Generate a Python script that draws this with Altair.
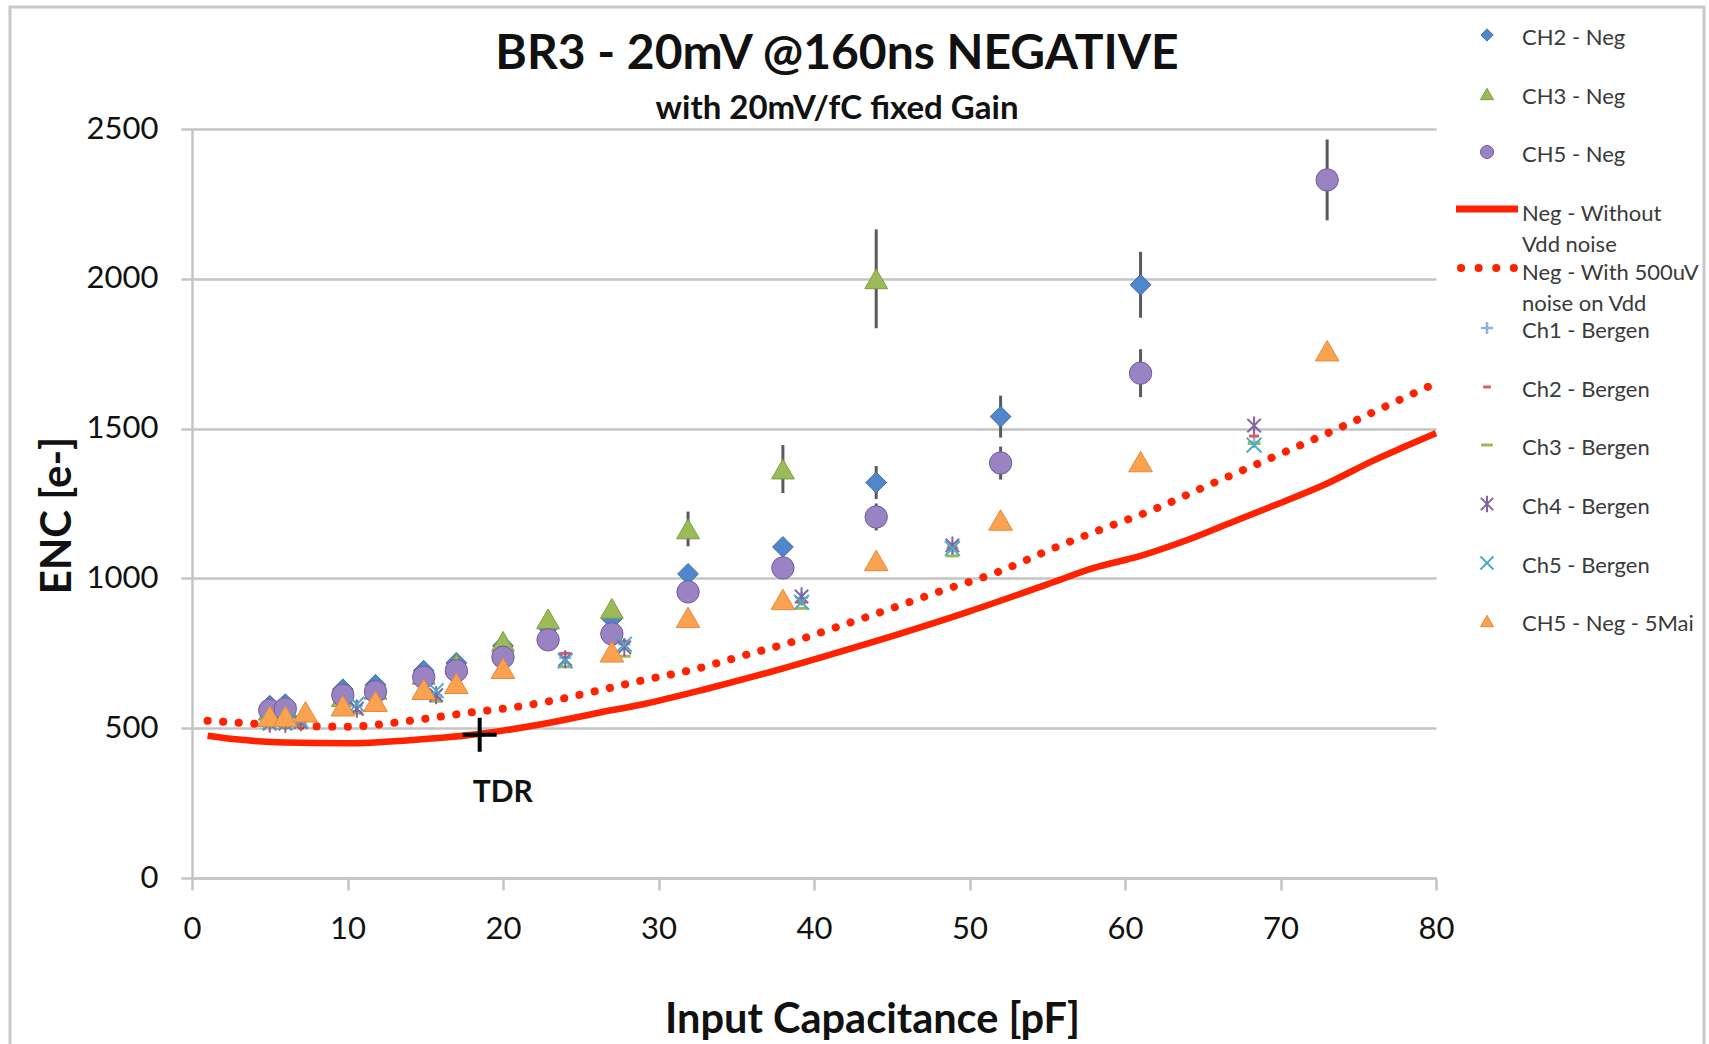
import altair as alt
import pandas as pd

FONT = "Lato"

# ---------------- data ----------------
title_text = ["BR3 - 20mV @160ns NEGATIVE"]
subtitle_text = ["with 20mV/fC fixed Gain"]
x_title = "Input Capacitance [pF]"
y_title = "ENC [e-]"
x_ticks = [0, 10, 20, 30, 40, 50, 60, 70, 80]
y_ticks = [0, 500, 1000, 1500, 2000, 2500]

ch2_x = [5, 6, 9.7, 11.8, 14.9, 17, 20, 22.9, 27, 31.9, 38, 44, 52, 61]
ch2_y = [575, 580, 630, 645, 692, 718, 775, 835, 865, 1015, 1105, 1320, 1540, 1980]
ch2_err = [10, 10, 10, 10, 10, 10, 15, 15, 15, 20, 25, 55, 70, 110]

ch3_x = [5, 6, 9.7, 11.8, 14.9, 17, 20, 22.9, 27, 31.9, 38, 44]
ch3_y = [560, 565, 605, 630, 680, 715, 790, 865, 900, 1165, 1365, 2000]
ch3_err = [10, 10, 10, 10, 10, 10, 15, 15, 20, 58, 80, 165]

ch5_x = [5, 6, 9.7, 11.8, 14.9, 17, 20, 22.9, 27, 31.9, 38, 44, 52, 61, 73]
ch5_y = [560, 565, 610, 622, 670, 692, 737, 795, 815, 955, 1035, 1205, 1385, 1685, 2330]
ch5_err = [10, 10, 10, 10, 10, 10, 15, 15, 15, 20, 25, 45, 55, 80, 135]

mai_x = [5, 6, 7.3, 9.7, 11.8, 14.9, 17, 20, 27, 31.9, 38, 44, 52, 61, 73]
mai_y = [540, 540, 555, 575, 590, 630, 650, 700, 755, 870, 930, 1060, 1195, 1390, 1760]

bergen_x = [5, 6, 7, 10.6, 15.7, 24, 27.8, 39.2, 48.9, 68.3]
b_ch1_y = [520, 515, 520, 575, 610, 735, 780, 935, 1100, 1455]
b_ch2_y = [510, 510, 515, 555, 600, 750, 790, 920, 1105, 1475]
b_ch3_y = [505, 505, 510, 550, 590, 705, 740, 900, 1075, 1450]
b_ch4_y = [515, 515, 520, 565, 610, 730, 770, 940, 1110, 1510]
b_ch5_y = [520, 520, 525, 580, 625, 725, 780, 920, 1100, 1445]

solid_x = [1, 3, 6, 10, 14, 18, 20, 23, 26, 29, 33, 37, 41, 45.5, 50, 55, 58, 61, 64, 67, 70, 73, 76, 78, 80]
solid_y = [475, 462, 452, 450, 460, 478, 492, 518, 550, 580, 630, 685, 745, 815, 890, 980, 1035, 1075, 1128, 1190, 1252, 1317, 1394, 1440, 1485]

dot_x = [1, 5, 10, 14, 18, 20, 23, 26, 29, 32.5, 35.5, 38.6, 41.6, 44.6, 48, 51.8, 55.6, 58.7, 61.8, 64.8, 67.8, 70.9, 73.9, 77, 80]
dot_y = [525, 512, 505, 525, 553, 565, 590, 624, 660, 699, 743, 788, 840, 893, 955, 1021, 1105, 1168, 1229, 1298, 1366, 1436, 1505, 1580, 1652]

tdr_x = [18.5]
tdr_y = [478]
tdr_label = ["TDR"]

legend_labels = ["CH2 - Neg", "CH3 - Neg", "CH5 - Neg", "Neg - Without|Vdd noise",
                 "Neg - With 500uV|noise on Vdd", "Ch1 - Bergen", "Ch2 - Bergen",
                 "Ch3 - Bergen", "Ch4 - Bergen", "Ch5 - Bergen", "CH5 - Neg - 5Mai"]

# ---------------- styles / layout ----------------
TOP = 129
W, H = 1244, 749
PAD = {"left": 192, "top": TOP, "right": 1709 - 192 - W, "bottom": 1044 - TOP - H}
GRID = "#c4c4c4"
TXT = "#111111"
RED = "#ff2200"
PLUS = "M-1,0L1,0M0,-1L0,1"
DASH = "M-1,0L1,0"
XSHP = "M-1,-1L1,1M-1,1L1,-1"
STAR = "M-1,-1L1,1M-1,1L1,-1M0,-1.35L0,1.35"

xscale = alt.Scale(domain=[0, 80], nice=False, zero=False)
yscale = alt.Scale(domain=[0, 2500], nice=False)
xaxis = alt.Axis(values=x_ticks, grid=False, domainColor=GRID, domainWidth=2.5,
                 tickColor=GRID, tickWidth=2.5, tickSize=12, labelFont=FONT,
                 labelFontSize=31, labelColor=TXT, labelPadding=24, labelFlush=False,
                 format="d", title=x_title,
                 titleFont=FONT, titleFontSize=41.5, titleFontWeight="bold", titleColor=TXT,
                 titleX=680, titleY=142, titleBaseline="middle", titleAlign="center")
yaxis = alt.Axis(values=y_ticks, grid=True, gridColor=GRID, gridWidth=2.5,
                 domainColor=GRID, domainWidth=2.5, tickColor=GRID, tickWidth=2.5,
                 tickSize=11, labelFont=FONT, labelFontSize=31, labelColor=TXT,
                 labelPadding=23, format="d", title=y_title, titleFont=FONT, titleFontSize=42,
                 titleFontWeight="bold", titleColor=TXT, titleX=-135, titleY=386,
                 titleBaseline="middle", titleAlign="center", titleAngle=270)


def xc(f="x"):
    return alt.X(f + ":Q", scale=xscale, axis=xaxis)


def yc(f="y"):
    return alt.Y(f + ":Q", scale=yscale, axis=yaxis)


def df(xs, ys):
    return pd.DataFrame({"x": xs, "y": ys})


def errdf(xs, ys, es):
    return pd.DataFrame({"x": xs, "lo": [a - e for a, e in zip(ys, es)],
                         "hi": [a + e for a, e in zip(ys, es)]})


def errbars(xs, ys, es):
    return alt.Chart(errdf(xs, ys, es)).mark_rule(color="#5a5a5a", strokeWidth=3).encode(
        x=xc(), y=yc("lo"), y2=alt.Y2("hi:Q"))


def filled(xs, ys, shape, fill, stroke, size):
    return alt.Chart(df(xs, ys)).mark_point(shape=shape, filled=True, fill=fill, stroke=stroke,
                                            strokeWidth=1, size=size, opacity=1).encode(x=xc(), y=yc())


def open_pts(xs, ys, shape, color, size, sw):
    return alt.Chart(df(xs, ys)).mark_point(shape=shape, filled=False, color=color,
                                            strokeWidth=sw, size=size, opacity=1).encode(x=xc(), y=yc())


layers = []
one = pd.DataFrame({"k": [0]})
# outer frame of the chart
layers.append(alt.Chart(one).mark_rect(filled=False, stroke="#c8c8c8", strokeWidth=3).encode(
    x=alt.value(-182), x2=alt.value(1512), y=alt.value(7 - TOP), y2=alt.value(1060 - TOP)))

# CH2 / CH3 / CH5 with error bars
layers += [errbars(ch2_x, ch2_y, ch2_err), filled(ch2_x, ch2_y, "diamond", "#4f86cc", "#3d6aa8", 430)]
layers += [errbars(ch3_x, ch3_y, ch3_err), filled(ch3_x, ch3_y, "triangle-up", "#9bbb59", "#7d9b40", 520)]
layers += [errbars(ch5_x, ch5_y, ch5_err), filled(ch5_x, ch5_y, "circle", "#9983c3", "#735a9c", 500)]

# model curves
layers.append(alt.Chart(df(solid_x, solid_y)).mark_line(color=RED, strokeWidth=6.5, interpolate="monotone").encode(x=xc(), y=yc()))
layers.append(alt.Chart(df(dot_x, dot_y)).mark_line(color=RED, strokeWidth=8, strokeDash=[0.1, 15.5], strokeCap="round", interpolate="monotone").encode(x=xc(), y=yc()))

# Bergen measurements
layers.append(open_pts(bergen_x, b_ch1_y, PLUS, "#8db4e2", 150, 2.5))
layers.append(open_pts(bergen_x, b_ch2_y, DASH, "#e05a5a", 100, 3))
layers.append(open_pts(bergen_x, b_ch3_y, DASH, "#9bbb59", 160, 3))
layers.append(open_pts(bergen_x, b_ch4_y, STAR, "#8064a2", 180, 2))
layers.append(open_pts(bergen_x, b_ch5_y, XSHP, "#4bacc6", 220, 2))

# CH5 - Neg - 5Mai
layers.append(filled(mai_x, mai_y, "triangle-up", "#f9a24f", "#e8893a", 560))

# TDR marker
tdr = pd.DataFrame({"x": tdr_x, "y": tdr_y, "t": tdr_label})
layers.append(alt.Chart(tdr).mark_point(shape=PLUS, filled=False, color="black", strokeWidth=4, size=1156, opacity=1).encode(x=xc(), y=yc()))
layers.append(alt.Chart(tdr).mark_text(font=FONT, fontSize=30, fontWeight="bold", color=TXT, dx=23, dy=58).encode(x=xc(), y=yc(), text="t:N"))

# title
layers.append(alt.Chart(pd.DataFrame({"t": title_text})).mark_text(font=FONT, fontSize=48, fontWeight="bold", color=TXT, align="center", baseline="middle").encode(
    x=alt.value(645), y=alt.value(55 - TOP), text="t:N"))
layers.append(alt.Chart(pd.DataFrame({"t": subtitle_text})).mark_text(font=FONT, fontSize=33, fontWeight="bold", color=TXT, align="center", baseline="middle").encode(
    x=alt.value(645), y=alt.value(109 - TOP), text="t:N"))

# legend (absolute page rows of each entry)
rows_abs = [38, 97, 155, 214, 273, 331, 390, 448, 507, 566, 624]
sym_x = 1295
txt_x = 1330
leg_sym = [
    ("f", "diamond", "#4f86cc", "#3d6aa8", 150),
    ("f", "triangle-up", "#9bbb59", "#7d9b40", 170),
    ("f", "circle", "#9983c3", "#735a9c", 170),
    ("line", None, None, None, None),
    ("dots", None, None, None, None),
    ("o", PLUS, "#8db4e2", 2.5, 150),
    ("o", DASH, "#e05a5a", 3, 60),
    ("o", DASH, "#9bbb59", 3, 140),
    ("o", STAR, "#8064a2", 2, 150),
    ("o", XSHP, "#4bacc6", 2, 170),
    ("f", "triangle-up", "#f9a24f", "#e8893a", 170),
]
for lab, ra, sym in zip(legend_labels, rows_abs, leg_sym):
    ry = ra - TOP
    kind = sym[0]
    if kind == "f":
        layers.append(alt.Chart(one).mark_point(shape=sym[1], filled=True, fill=sym[2], stroke=sym[3], strokeWidth=1, size=sym[4], opacity=1).encode(
            x=alt.value(sym_x), y=alt.value(ry - 3)))
    elif kind == "o":
        layers.append(alt.Chart(one).mark_point(shape=sym[1], filled=False, color=sym[2], strokeWidth=sym[3], size=sym[4], opacity=1).encode(
            x=alt.value(sym_x), y=alt.value(ry - 3)))
    elif kind == "line":
        layers.append(alt.Chart(one).mark_rule(color=RED, strokeWidth=7).encode(
            x=alt.value(1264), x2=alt.value(1326), y=alt.value(ry - 5)))
    else:
        layers.append(alt.Chart(one).mark_rule(color=RED, strokeWidth=8, strokeDash=[0.1, 17.5], strokeCap="round").encode(
            x=alt.value(1269), x2=alt.value(1326), y=alt.value(ry - 5)))
    for i, part in enumerate(lab.split("|")):
        layers.append(alt.Chart(pd.DataFrame({"t": [part]})).mark_text(font=FONT, fontSize=22, color="#3a3a3a", align="left", baseline="middle").encode(
            x=alt.value(txt_x), y=alt.value(ry + 31 * i), text="t:N"))

chart = alt.layer(*layers).properties(
    width=W, height=H, padding=PAD, autosize=alt.AutoSizeParams(type="none"),
    background="white"
).configure_view(strokeWidth=0)

chart.save("out.html", embed_options={"renderer": "svg", "actions": False})
